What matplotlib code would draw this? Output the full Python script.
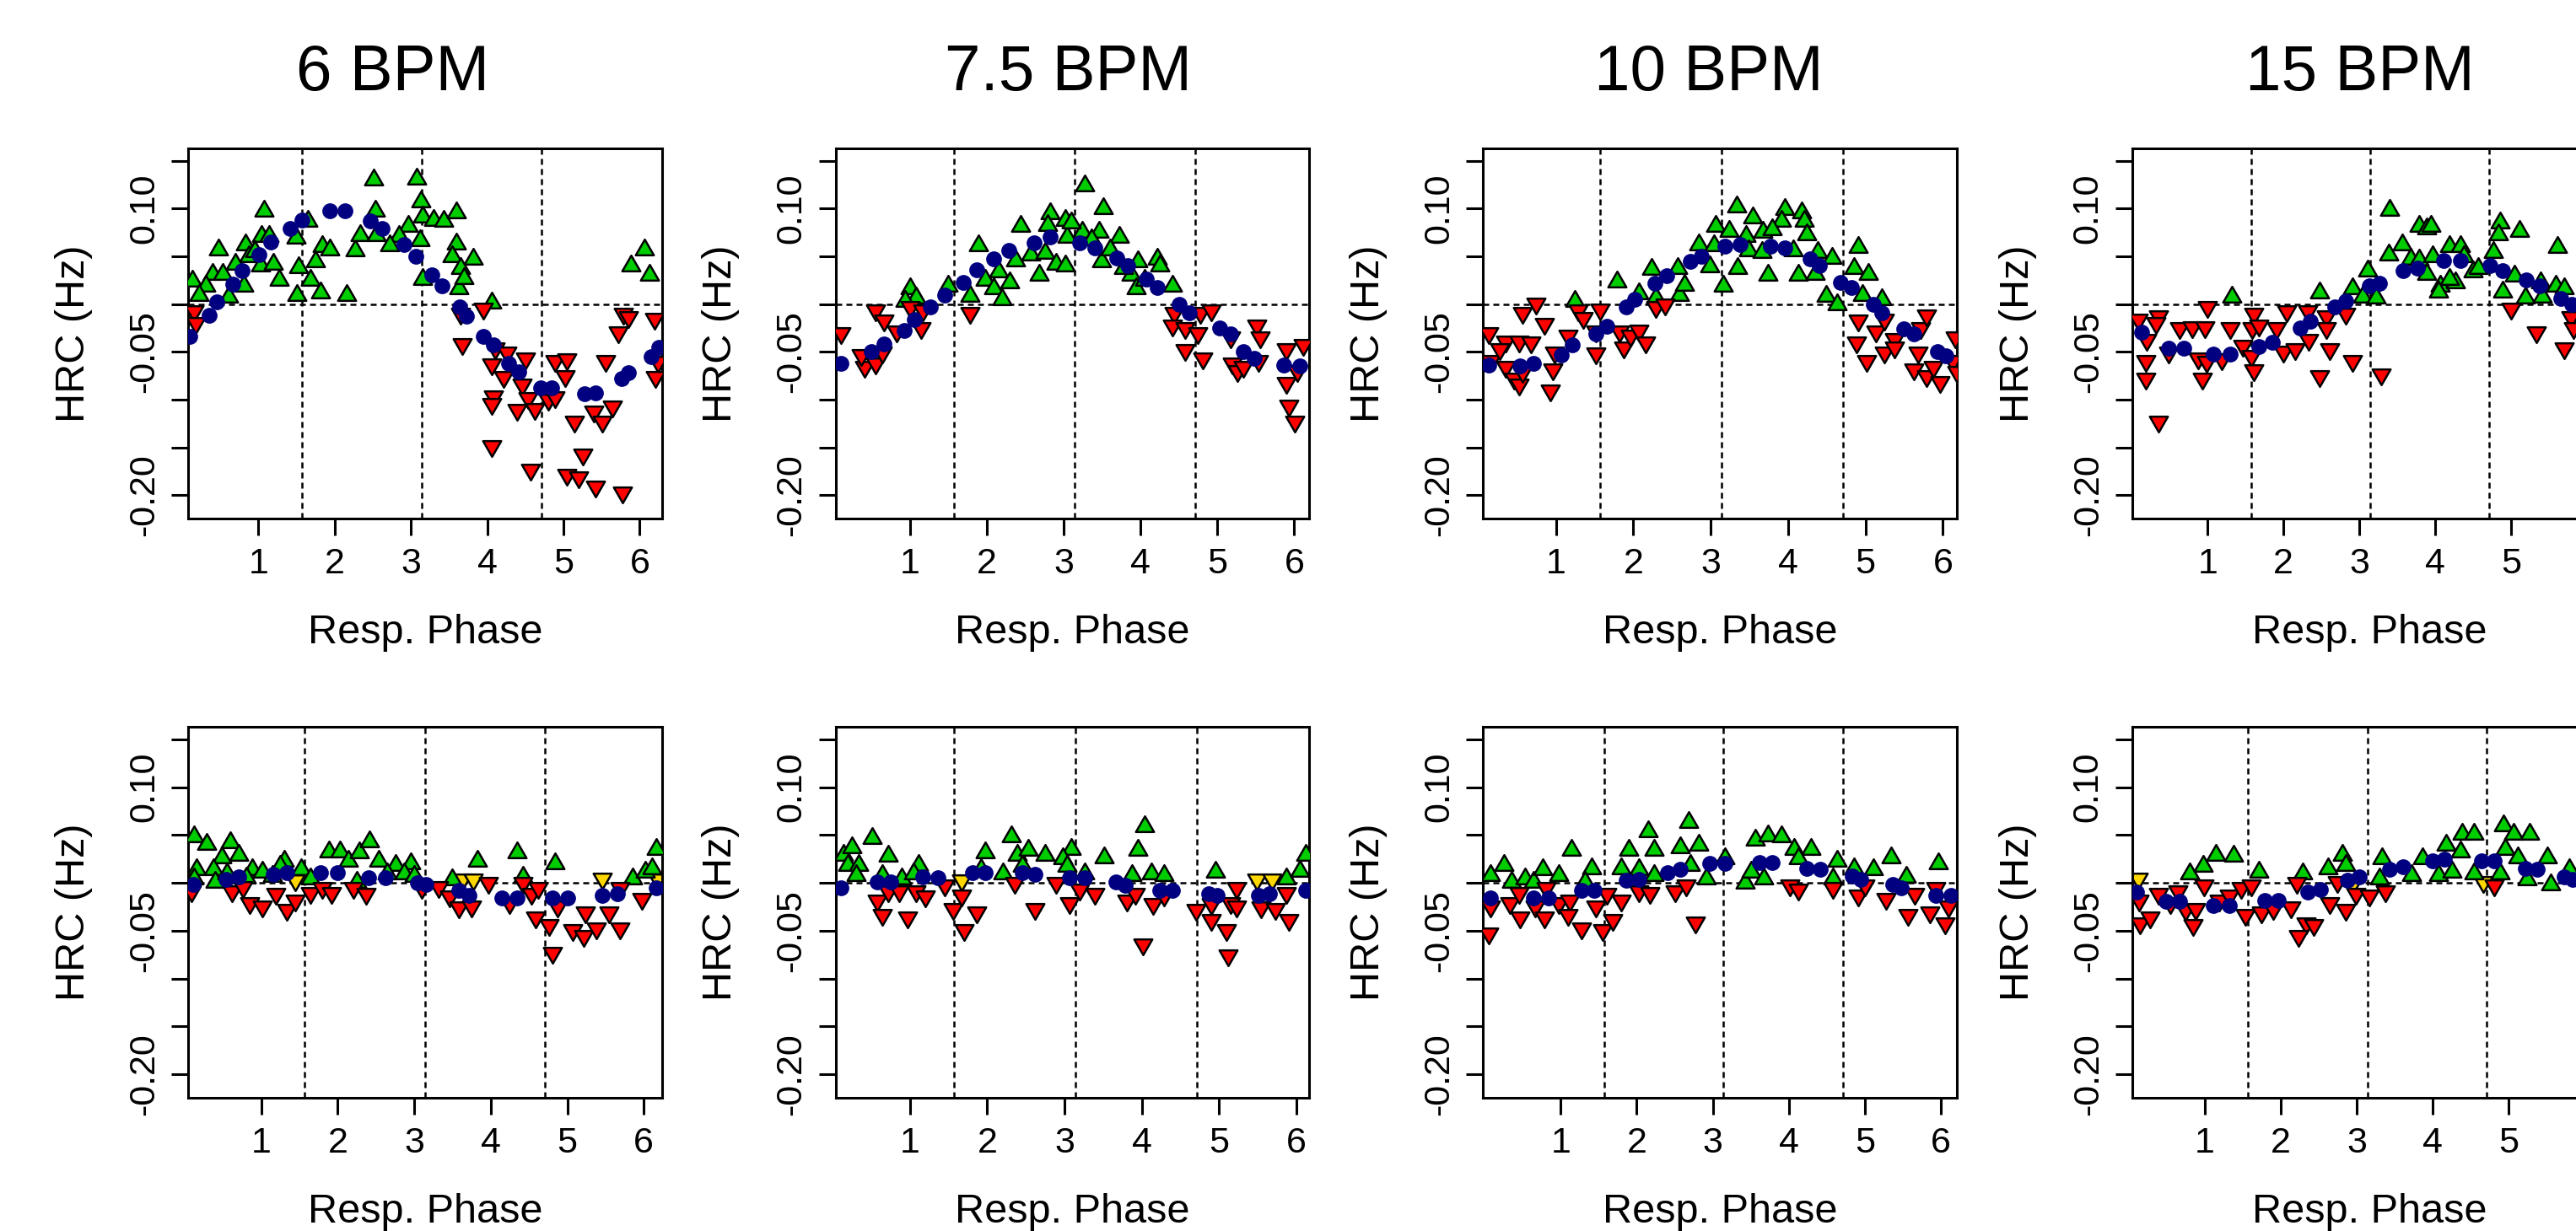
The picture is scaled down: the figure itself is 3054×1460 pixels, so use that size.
import numpy as np
import matplotlib
matplotlib.use("Agg")
import matplotlib.pyplot as plt
from matplotlib.path import Path

plt.rcParams['font.family'] = ['Liberation Sans', 'DejaVu Sans']

# ---------------- labels / ticks ----------------
titles = ["6 BPM", "7.5 BPM", "10 BPM", "15 BPM"]
title_x_px = [465.5, 1266.0, 2025.5, 2797.5]
x_ticks = [1, 2, 3, 4, 5, 6]
y_ticks = [-0.20, -0.15, -0.10, -0.05, 0.0, 0.05, 0.10, 0.15]
y_tick_labels = ["-0.20", "", "", "-0.05", "", "", "0.10", ""]
ref_phases = [np.pi / 2, np.pi, 3 * np.pi / 2]
x_label = "Resp. Phase"
y_label = "HRC (Hz)"

# ---------------- data: top row ----------------
# 6 BPM top
t6_up_x = [2.51,3.08,3.13,1.07,1.65,2.53,2.97,3.15,3.30,3.43,3.60,1.49,1.84,1.94,2.27,2.34,2.54,2.84,3.12,3.60,
           3.54,3.82,3.65,3.63,3.15,4.06,0.48,0.83,0.87,1.04,1.14,1.03,0.40,0.53,0.13,0.31,0.61,0.81,1.27,1.53,
           1.68,1.75,1.51,1.81,2.16,6.06,5.89,6.13,0.22,0.70,0.95,1.20,2.72,3.70]
t6_up_y = [0.133,0.134,0.110,0.100,0.090,0.100,0.084,0.094,0.091,0.090,0.099,0.072,0.063,0.060,0.059,0.075,0.075,0.074,0.069,0.066,
           0.053,0.050,0.040,0.019,0.029,0.004,0.060,0.065,0.053,0.074,0.074,0.043,0.034,0.034,0.027,0.022,0.010,0.022,0.028,0.041,
           0.028,0.047,0.012,0.015,0.012,0.060,0.043,0.033,0.012,0.045,0.058,0.045,0.064,0.030]
t6_dn_x = [0.16,0.18,3.67,3.65,3.95,4.11,4.26,4.50,4.06,4.22,4.46,4.08,4.06,4.39,4.54,4.63,4.80,4.89,4.89,5.04,
           5.02,5.55,5.72,5.79,5.15,5.40,5.51,5.64,4.06,4.57,5.26,5.04,5.20,5.42,5.77,5.85,6.19,6.24,6.21]
t6_dn_y = [-0.010,-0.022,-0.044,-0.013,-0.007,-0.049,-0.053,-0.059,-0.066,-0.079,-0.087,-0.099,-0.107,-0.113,-0.101,-0.112,-0.103,-0.100,-0.062,-0.060,
           -0.078,-0.062,-0.032,-0.013,-0.126,-0.115,-0.126,-0.110,-0.151,-0.176,-0.160,-0.181,-0.184,-0.194,-0.200,-0.016,-0.018,-0.063,-0.079]
t6_bl_x = [0.10,0.35,0.46,0.66,0.79,1.01,1.16,1.42,1.57,1.94,2.14,2.47,2.62,2.91,3.06,3.28,3.41,3.64,3.73,3.95,
           4.08,4.28,4.41,4.70,4.85,5.28,5.42,5.76,5.85,6.15,6.25]
t6_bl_y = [-0.034,-0.012,0.002,0.021,0.035,0.052,0.065,0.079,0.088,0.098,0.098,0.087,0.079,0.062,0.050,0.031,0.019,-0.003,-0.013,-0.034,
           -0.043,-0.062,-0.071,-0.088,-0.088,-0.094,-0.093,-0.078,-0.072,-0.055,-0.045]
t6_gd_x = []
t6_gd_y = []

# 7.5 BPM top
t75_up_x = [3.27,3.52,2.44,2.82,3.02,2.79,3.24,3.04,3.46,3.72,1.89,2.57,2.76,2.37,2.90,3.02,3.49,3.97,4.22,4.25,
            3.88,4.42,3.94,2.68,2.15,1.98,2.09,2.20,1.78,1.50,1.00,1.08,0.94,3.60,3.78,4.05,2.30,3.10,3.36]
t75_up_y = [0.127,0.103,0.084,0.098,0.091,0.085,0.078,0.073,0.078,0.073,0.064,0.054,0.056,0.048,0.045,0.043,0.047,0.047,0.050,0.043,
            0.033,0.022,0.019,0.033,0.037,0.028,0.019,0.008,0.011,0.022,0.019,0.009,0.006,0.060,0.040,0.028,0.025,0.088,0.070]
t75_dn_x = [0.10,0.41,0.55,0.36,0.64,0.55,0.66,0.83,1.00,1.17,1.14,1.78,4.44,4.42,4.58,4.78,4.92,4.75,4.58,4.81,
            5.17,5.20,5.26,5.34,5.51,5.56,5.54,5.90,5.90,5.93,6.01,6.04,6.12]
t75_dn_y = [-0.033,-0.068,-0.065,-0.056,-0.053,-0.009,-0.020,-0.031,-0.006,-0.009,-0.028,-0.012,-0.012,-0.025,-0.028,-0.012,-0.009,-0.033,-0.051,-0.059,
            -0.037,-0.065,-0.073,-0.068,-0.025,-0.037,-0.062,-0.050,-0.085,-0.109,-0.126,-0.073,-0.045]
t75_bl_x = [0.10,0.50,0.66,0.92,1.06,1.26,1.45,1.69,1.87,2.09,2.29,2.62,2.82,3.21,3.41,3.69,3.83,4.08,4.22,4.50,
            4.64,5.03,5.17,5.34,5.48,5.87,6.07]
t75_bl_y = [-0.062,-0.050,-0.042,-0.028,-0.016,-0.003,0.009,0.023,0.036,0.047,0.056,0.064,0.070,0.064,0.059,0.048,0.040,0.026,0.017,0.000,
            -0.009,-0.025,-0.031,-0.050,-0.057,-0.064,-0.065]
t75_gd_x = []
t75_gd_y = []

# 10 BPM top
t10_up_x = [3.34,3.54,3.96,4.18,4.21,3.91,3.06,3.24,3.46,3.68,3.79,4.24,2.85,3.04,3.49,3.66,4.07,4.38,4.57,4.91,
            2.24,2.57,2.99,3.35,3.74,4.13,4.35,4.85,5.04,1.79,2.07,2.29,2.60,2.66,3.16,4.49,4.63,4.96,5.21,1.24]
t10_up_y = [0.105,0.093,0.102,0.099,0.090,0.090,0.084,0.079,0.074,0.078,0.081,0.076,0.065,0.064,0.059,0.057,0.059,0.057,0.051,0.062,
            0.039,0.040,0.042,0.040,0.033,0.033,0.034,0.040,0.034,0.026,0.014,0.009,0.012,0.023,0.022,0.011,0.002,0.012,0.008,0.006]
t10_dn_x = [0.13,0.16,0.35,0.52,0.68,0.27,0.35,0.46,0.52,0.57,0.57,0.74,0.85,0.96,0.93,1.16,0.98,1.29,1.35,1.57,
            1.52,1.52,1.82,1.88,1.96,2.07,2.16,2.29,2.41,4.91,4.88,5.02,5.13,5.24,5.24,5.38,5.38,5.71,5.79,5.68,
            5.63,5.79,5.96,5.88,6.13,6.16,6.18]
t10_dn_y = [-0.033,-0.062,-0.042,-0.042,-0.043,-0.050,-0.068,-0.081,-0.087,-0.074,-0.012,-0.002,-0.023,-0.071,-0.093,-0.036,-0.053,-0.009,-0.017,-0.008,
            -0.031,-0.054,-0.031,-0.048,-0.036,-0.030,-0.043,-0.006,-0.003,-0.020,-0.043,-0.062,-0.031,-0.019,-0.053,-0.039,-0.048,-0.028,-0.014,-0.053,
            -0.071,-0.078,-0.084,-0.068,-0.062,-0.037,-0.074]
t10_bl_x = [0.13,0.54,0.71,1.07,1.21,1.52,1.66,1.91,2.02,2.28,2.43,2.74,2.88,3.18,3.38,3.77,3.96,4.29,4.41,4.68,
            4.82,5.10,5.21,5.49,5.63,5.93,6.04]
t10_bl_y = [-0.064,-0.065,-0.062,-0.053,-0.043,-0.031,-0.023,-0.003,0.005,0.022,0.030,0.045,0.050,0.061,0.062,0.061,0.059,0.047,0.040,0.023,
            0.017,0.000,-0.009,-0.026,-0.031,-0.050,-0.054]
t10_gd_x = []
t10_gd_y = []

# 15 BPM top
t15_up_x = [1.32,2.47,2.91,3.04,3.11,3.22,3.40,3.78,3.89,3.94,3.56,3.39,3.67,3.78,3.96,4.19,4.33,4.37,3.89,4.06,
            4.04,4.26,4.19,4.50,4.56,4.76,4.85,4.83,5.11,5.04,4.89,5.19,5.41,5.39,5.59,5.70,5.61]
t15_up_y = [0.010,0.015,0.019,0.010,0.038,0.009,0.101,0.084,0.082,0.084,0.065,0.054,0.050,0.049,0.053,0.063,0.063,0.053,0.034,0.022,
            0.016,0.025,0.029,0.037,0.040,0.057,0.088,0.076,0.079,0.032,0.016,0.009,0.010,0.025,0.022,0.019,0.062]
t15_dn_x = [0.09,0.35,0.32,0.20,0.19,0.19,0.35,0.48,0.63,0.80,0.96,1.00,0.87,0.98,0.93,1.19,1.30,1.46,1.61,1.59,
            1.57,1.61,1.67,1.91,2.04,2.00,2.15,2.32,2.33,2.56,2.56,2.61,2.47,2.82,2.91,3.28,5.00,5.33,5.70,5.78,5.82]
t15_dn_y = [-0.019,-0.015,-0.022,-0.040,-0.062,-0.081,-0.126,-0.053,-0.028,-0.027,-0.027,-0.006,-0.059,-0.063,-0.081,-0.060,-0.028,-0.046,-0.013,-0.028,
            -0.057,-0.072,-0.025,-0.028,-0.010,-0.052,-0.050,-0.010,-0.040,-0.015,-0.028,-0.050,-0.078,-0.013,-0.062,-0.076,-0.007,-0.032,-0.049,-0.016,-0.028]
t15_bl_x = [0.13,0.48,0.69,1.07,1.30,1.67,1.85,2.22,2.35,2.67,2.82,3.13,3.26,3.57,3.76,4.11,4.33,4.72,4.89,5.20,5.37,5.65,5.80]
t15_bl_y = [-0.029,-0.046,-0.046,-0.052,-0.052,-0.044,-0.040,-0.025,-0.018,-0.003,0.003,0.019,0.022,0.035,0.038,0.046,0.046,0.040,0.035,0.025,0.019,0.006,0.000]
t15_gd_x = []
t15_gd_y = []

# ---------------- data: bottom row ----------------
b6_up_x = [0.12,0.29,0.60,0.71,0.48,0.15,0.37,0.12,0.40,0.88,1.02,1.30,1.52,1.64,1.89,2.03,2.14,2.28,2.42,2.54,
           2.76,2.96,2.87,3.49,3.83,4.34,4.42,4.84,5.85,6.02,6.16,6.11,2.25,1.15,1.25,2.65,3.00,0.80,0.55]
b6_up_y = [0.051,0.043,0.045,0.032,0.029,0.017,0.017,0.007,0.004,0.017,0.014,0.026,0.017,0.007,0.035,0.035,0.026,0.034,0.046,0.026,
           0.021,0.023,0.012,0.006,0.026,0.034,0.009,0.023,0.007,0.014,0.038,0.018,0.004,0.010,0.020,0.012,0.010,0.008,0.012]
b6_dn_x = [0.09,0.62,0.76,0.85,1.02,1.19,1.33,1.44,1.64,1.80,1.92,2.20,2.37,3.10,3.32,3.46,3.58,3.75,3.97,4.25,
           4.42,4.53,4.59,4.62,4.76,4.81,4.87,5.07,5.21,5.24,5.38,5.54,5.69,5.69,5.97]
b6_dn_y = [-0.011,-0.011,-0.007,-0.024,-0.027,-0.014,-0.031,-0.021,-0.013,-0.008,-0.013,-0.008,-0.014,-0.008,-0.007,-0.017,-0.028,-0.027,-0.003,-0.024,
           -0.003,-0.014,-0.039,-0.008,-0.047,-0.076,-0.027,-0.052,-0.058,-0.033,-0.050,-0.033,-0.050,-0.008,-0.019]
b6_bl_x = [0.11,0.54,0.71,1.16,1.33,1.78,2.00,2.40,2.62,3.04,3.15,3.58,3.72,4.14,4.34,4.81,5.01,5.46,5.66,6.16]
b6_bl_y = [-0.002,0.004,0.006,0.009,0.011,0.011,0.011,0.005,0.005,0.000,-0.002,-0.008,-0.013,-0.016,-0.016,-0.016,-0.016,-0.013,-0.011,-0.005]
b6_gd_x = [1.44,3.63,3.77,5.46,6.19]
b6_gd_y = [0.000,0.001,0.001,0.002,0.001]

b75_up_x = [0.51,0.14,0.19,0.33,0.30,0.72,0.64,0.89,1.11,1.97,1.92,2.20,2.31,2.39,2.53,2.75,3.09,2.98,3.03,3.26,
            3.51,4.04,3.95,3.87,4.12,4.29,4.95,5.87,6.04,6.12,1.05,2.45,0.25]
b75_up_y = [0.049,0.032,0.021,0.021,0.011,0.031,0.011,0.007,0.021,0.034,0.017,0.012,0.051,0.032,0.037,0.032,0.038,0.028,0.020,0.012,
            0.029,0.062,0.037,0.011,0.012,0.011,0.014,0.007,0.015,0.032,0.012,0.020,0.040]
b75_dn_x = [0.58,0.64,0.72,0.86,0.97,1.08,1.20,1.45,1.56,1.70,1.86,1.67,2.36,2.62,2.89,3.06,3.20,3.39,3.81,3.92,
            4.15,4.29,4.01,4.70,4.90,4.90,5.09,5.12,5.15,5.23,5.23,5.54,5.73,5.87,5.90]
b75_dn_y = [-0.021,-0.036,-0.011,-0.011,-0.039,-0.011,-0.017,-0.005,-0.030,-0.052,-0.033,-0.016,-0.003,-0.030,-0.003,-0.024,-0.010,-0.014,-0.021,-0.014,
            -0.025,-0.016,-0.067,-0.031,-0.041,-0.025,-0.052,-0.078,-0.024,-0.008,-0.027,-0.028,-0.030,-0.013,-0.041]
b75_bl_x = [0.11,0.58,0.75,1.17,1.36,1.81,1.97,2.45,2.62,3.06,3.26,3.67,3.78,4.23,4.40,4.87,4.98,5.51,5.65,6.12]
b75_bl_y = [-0.005,0.001,0.001,0.006,0.005,0.011,0.011,0.011,0.009,0.005,0.005,0.001,-0.003,-0.008,-0.008,-0.011,-0.013,-0.013,-0.011,-0.008]
b75_gd_x = [1.67,5.49,5.68]
b75_gd_y = [0.000,0.001,0.001]

b10_up_x = [0.08,0.25,0.36,0.53,0.64,0.76,0.98,1.14,1.41,1.32,1.89,1.80,2.03,2.15,2.23,2.23,2.57,2.68,2.82,2.71,
            2.91,3.16,3.42,3.56,3.73,3.90,3.50,3.67,4.07,4.29,4.12,4.63,4.58,4.86,5.11,5.34,5.54,5.96]
b10_up_y = [0.011,0.021,0.004,0.007,0.004,0.017,0.011,0.037,0.018,0.004,0.037,0.018,0.017,0.056,0.037,0.011,0.040,0.066,0.042,0.021,
            0.007,0.028,0.003,0.048,0.052,0.051,0.014,0.007,0.038,0.038,0.028,0.026,0.007,0.018,0.017,0.029,0.009,0.023]
b10_dn_x = [0.05,0.08,0.33,0.47,0.67,0.79,0.45,0.81,0.98,1.12,1.10,1.27,1.46,1.55,1.69,1.61,1.80,2.03,2.17,2.51,
            2.65,2.77,4.01,4.12,4.58,4.91,5.00,5.28,5.57,5.65,5.85,5.93,6.05,6.10]
b10_dn_y = [-0.055,-0.027,-0.024,-0.039,-0.027,-0.039,-0.013,-0.008,-0.024,-0.021,-0.036,-0.050,-0.027,-0.052,-0.041,-0.014,-0.021,-0.011,-0.013,-0.011,
            -0.005,-0.044,-0.005,-0.010,-0.008,-0.016,-0.005,-0.019,-0.036,-0.014,-0.033,-0.008,-0.045,-0.027]
b10_bl_x = [0.08,0.64,0.84,1.27,1.44,1.86,2.03,2.40,2.57,2.96,3.16,3.61,3.78,4.24,4.41,4.83,4.94,5.37,5.48,5.93,6.13]
b10_bl_y = [-0.016,-0.016,-0.016,-0.008,-0.008,0.003,0.004,0.011,0.014,0.020,0.020,0.021,0.021,0.015,0.014,0.007,0.004,-0.002,-0.005,-0.013,-0.013]
b10_gd_x = []
b10_gd_y = []

b15_up_x = [0.80,0.98,1.15,1.38,1.71,2.29,2.62,2.81,2.86,3.33,3.30,3.72,3.87,4.18,4.37,4.39,4.55,4.08,4.26,4.55,
            4.94,5.07,5.28,4.96,4.89,5.12,5.25,5.51,5.56,5.80]
b15_up_y = [0.012,0.020,0.032,0.031,0.014,0.012,0.018,0.032,0.021,0.028,0.007,0.011,0.028,0.042,0.035,0.054,0.054,0.011,0.014,0.012,
            0.063,0.054,0.054,0.038,0.012,0.029,0.006,0.029,0.001,0.017]
b15_dn_x = [0.13,0.15,0.28,0.39,0.54,0.65,0.75,0.85,0.88,0.99,1.19,1.32,1.48,1.53,1.74,1.61,1.90,2.13,2.21,2.34,
            2.23,2.44,2.65,2.86,2.75,2.99,3.17,3.38,4.81]
b15_dn_y = [-0.021,-0.045,-0.039,-0.014,-0.024,-0.011,-0.031,-0.047,-0.030,-0.005,-0.021,-0.016,-0.008,-0.036,-0.033,-0.005,-0.030,-0.028,-0.003,-0.045,
            -0.058,-0.047,-0.024,-0.031,-0.002,-0.014,-0.016,-0.011,-0.005]
b15_bl_x = [0.10,0.49,0.67,1.11,1.32,1.79,1.97,2.36,2.52,2.88,3.04,3.43,3.61,4.00,4.16,4.65,4.81,5.22,5.38,5.74,5.85]
b15_bl_y = [-0.010,-0.019,-0.019,-0.024,-0.024,-0.018,-0.018,-0.010,-0.007,0.003,0.006,0.014,0.017,0.023,0.025,0.023,0.023,0.015,0.014,0.006,0.004]
b15_gd_x = [0.12,2.94,4.67]
b15_gd_y = [0.002,-0.005,-0.002]

# per-panel x ranges (axis view limits)
top_xlims = [(0.084, 6.295), (0.031, 6.195), (0.061, 6.18), (0.011, 6.25)]
bot_xlims = [(0.05, 6.24), (0.036, 6.166), (-0.018, 6.207), (0.048, 6.29)]
y_lim = (-0.2245, 0.163)

top_panels = [
    (t6_up_x, t6_up_y, t6_dn_x, t6_dn_y, t6_bl_x, t6_bl_y, t6_gd_x, t6_gd_y),
    (t75_up_x, t75_up_y, t75_dn_x, t75_dn_y, t75_bl_x, t75_bl_y, t75_gd_x, t75_gd_y),
    (t10_up_x, t10_up_y, t10_dn_x, t10_dn_y, t10_bl_x, t10_bl_y, t10_gd_x, t10_gd_y),
    (t15_up_x, t15_up_y, t15_dn_x, t15_dn_y, t15_bl_x, t15_bl_y, t15_gd_x, t15_gd_y),
]
bot_panels = [
    (b6_up_x, b6_up_y, b6_dn_x, b6_dn_y, b6_bl_x, b6_bl_y, b6_gd_x, b6_gd_y),
    (b75_up_x, b75_up_y, b75_dn_x, b75_dn_y, b75_bl_x, b75_bl_y, b75_gd_x, b75_gd_y),
    (b10_up_x, b10_up_y, b10_dn_x, b10_dn_y, b10_bl_x, b10_bl_y, b10_gd_x, b10_gd_y),
    (b15_up_x, b15_up_y, b15_dn_x, b15_dn_y, b15_bl_x, b15_bl_y, b15_gd_x, b15_gd_y),
]

# ---------------- styling ----------------
GREEN = "#00CD00"
RED = "#FF0000"
GOLD = "#FFD700"
NAVY = "#000080"

up_tri = Path([(-1, -0.866), (1, -0.866), (0, 0.866), (-1, -0.866)],
              [Path.MOVETO, Path.LINETO, Path.LINETO, Path.CLOSEPOLY])
dn_tri = Path([(-1, 0.866), (1, 0.866), (0, -0.866), (-1, 0.866)],
              [Path.MOVETO, Path.LINETO, Path.LINETO, Path.CLOSEPOLY])

W, H = 3054, 1460
fig = plt.figure(figsize=(W / 100, H / 100), dpi=100)
fig.patch.set_facecolor("white")

col_left_px = [223.5, 990.6, 1758.4, 2528.3]
ax_w_px = 561.5
rows = [(845.0, 439.0, top_panels, top_xlims), (158.0, 440.0, bot_panels, bot_xlims)]

TRI_MS = 15.5
TRI_MEW = 1.8
DOT_MS = 13.5

for (bottom_px, h_px, panels, xlims) in rows:
    for c in range(4):
        ax = fig.add_axes([col_left_px[c] / W, bottom_px / H, ax_w_px / W, h_px / H])
        upx, upy, dnx, dny, blx, bly, gdx, gdy = panels[c]
        # reference lines
        for v in ref_phases:
            ax.axvline(v, color="black", lw=1.8, dashes=(2.8, 2.0), zorder=1)
        ax.axhline(0.0, color="black", lw=1.8, dashes=(2.8, 2.0), zorder=1)
        if len(gdx):
            ax.plot(gdx, gdy, ls="none", marker=dn_tri, ms=TRI_MS, mfc=GOLD, mec="black", mew=TRI_MEW, zorder=2)
        ax.plot(upx, upy, ls="none", marker=up_tri, ms=TRI_MS, mfc=GREEN, mec="black", mew=TRI_MEW, zorder=3)
        ax.plot(dnx, dny, ls="none", marker=dn_tri, ms=TRI_MS, mfc=RED, mec="black", mew=TRI_MEW, zorder=4)
        ax.plot(blx, bly, ls="none", marker="o", ms=DOT_MS, mfc=NAVY, mec=NAVY, mew=0, zorder=5)

        ax.set_xlim(*xlims[c])
        ax.set_ylim(*y_lim)
        ax.set_xticks(x_ticks)
        ax.set_xticklabels([str(t) for t in x_ticks])
        ax.set_yticks(y_ticks)
        ax.set_yticklabels(y_tick_labels, rotation=90, va="center")
        ax.tick_params(axis="both", direction="out", length=14.4, width=2.2, labelsize=31, color="black")
        ax.tick_params(axis="x", pad=10)
        ax.tick_params(axis="y", pad=9)
        for sp in ax.spines.values():
            sp.set_linewidth(2.2)
            sp.set_color("black")
        ax.text(0.5, -0.337, x_label, transform=ax.transAxes, ha="center", va="baseline", fontsize=35)
        ax.text(-0.242, 0.5, y_label, transform=ax.transAxes, rotation=90, ha="center", va="center", fontsize=35)

for t, xp in zip(titles, title_x_px):
    fig.text(xp / W, 1 - 106.7 / H, t, ha="center", va="baseline", fontsize=55)

fig.savefig("out.png", dpi=100, facecolor="white")
